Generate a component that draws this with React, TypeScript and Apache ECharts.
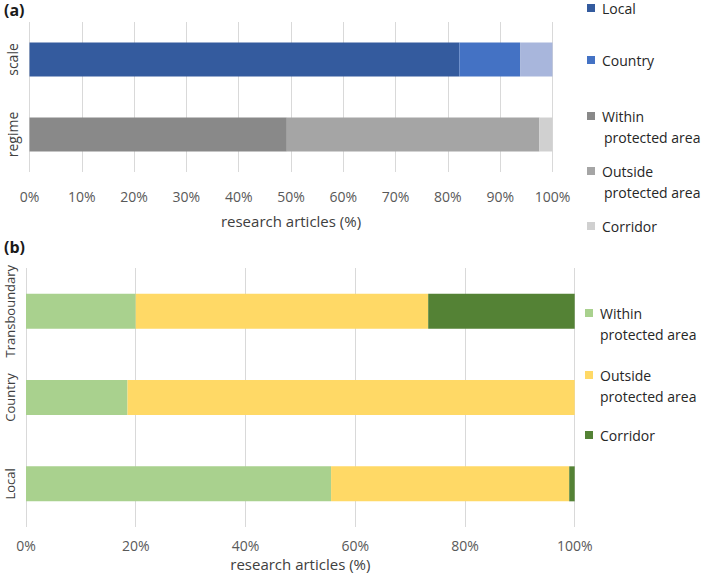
import React, { useEffect, useRef } from "react";
import * as echarts from "echarts";

// Panel (a)
const catsA = ["regime", "scale"];
const scaleLocal = [null, 82.2];
const scaleCountry = [null, 11.6];
const scaleTrans = [null, 6.2];
const regimeWithin = [49.2, null];
const regimeOutside = [48.3, null];
const regimeCorridor = [2.5, null];

// Panel (b)
const catsB = ["Local", "Country", "Transboundary"];
const bWithin = [55.6, 18.5, 20.0];
const bOutside = [43.4, 81.5, 53.3];
const bCorridor = [1.0, 0, 26.7];

const ticksA = 10;
const ticksB = 20;

const FONT = "'Open Sans', 'Noto Sans', sans-serif";
const TICK_COLOR = "#595959";
const TEXT_COLOR = "#404040";

export default function App() {
  const ref = useRef<HTMLDivElement>(null);
  useEffect(() => {
    if (!ref.current) return;
    const chart = echarts.init(ref.current, null, { renderer: "svg" });
    const barA = 34;
    const barB = 35;
    const mkLegend = (name: string, label: string, top: number, left: number) => ({
      data: [name],
      top,
      left,
      padding: 0,
      orient: "vertical",
      icon: "rect",
      itemWidth: 8,
      itemHeight: 8,
      itemGap: 6,
      selectedMode: false,
      formatter: () => label,
      textStyle: { fontFamily: FONT, fontSize: 14, color: "#262626", padding: [0, 0, 0, 2] },
    });
    chart.setOption({
      animation: false,
      textStyle: { fontFamily: FONT },
      grid: [
        { left: 29.5, right: 156.5, top: 22, height: 150 },
        { left: 26, right: 134.3, top: 268, height: 259 },
      ],
      xAxis: [
        {
          gridIndex: 0,
          type: "value",
          min: 0,
          max: 100,
          interval: ticksA,
          axisLine: { show: false },
          axisTick: { show: false },
          splitLine: { lineStyle: { color: "#d9d9d9", width: 1 } },
          axisLabel: { formatter: "{value}%", color: TICK_COLOR, fontSize: 14, margin: 17, fontFamily: FONT },
          name: "research articles (%)",
          nameLocation: "middle",
          nameGap: 41,
          nameTextStyle: { color: TEXT_COLOR, fontSize: 15, fontFamily: FONT },
        },
        {
          gridIndex: 1,
          type: "value",
          min: 0,
          max: 100,
          interval: ticksB,
          axisLine: { show: false },
          axisTick: { show: false },
          splitLine: { lineStyle: { color: "#d9d9d9", width: 1 } },
          axisLabel: { formatter: "{value}%", color: TICK_COLOR, fontSize: 14, margin: 11, fontFamily: FONT },
          name: "research articles (%)",
          nameLocation: "middle",
          nameGap: 29,
          nameTextStyle: { color: TEXT_COLOR, fontSize: 15, fontFamily: FONT },
        },
      ],
      yAxis: [
        {
          gridIndex: 0,
          type: "category",
          data: catsA,
          axisLine: { show: false },
          axisTick: { show: false },
          axisLabel: { rotate: 90, interval: 0, color: TEXT_COLOR, fontSize: 14, margin: 10, fontFamily: FONT },
        },
        {
          gridIndex: 1,
          type: "category",
          data: catsB,
          axisLine: { show: false },
          axisTick: { show: false },
          axisLabel: { rotate: 90, interval: 0, color: TEXT_COLOR, fontSize: 13, margin: 10, fontFamily: FONT },
        },
      ],
      legend: [
        mkLegend("Local", "Local", 1, 587),
        mkLegend("Country", "Country", 53, 587),
        mkLegend("Within (a)", "Within", 109, 587),
        mkLegend("Outside (a)", "Outside", 164, 587),
        mkLegend("Corridor (a)", "Corridor", 219, 587),
        mkLegend("Within protected area", "Within", 306, 585),
        mkLegend("Outside protected area", "Outside", 368, 585),
        mkLegend("Corridor", "Corridor", 428, 585),
      ],
      graphic: [
        { type: "text", left: 4, top: 2, style: { text: "(a)", font: `bold 16px ${FONT}`, fill: "#1a1a1a" } },
        { type: "text", left: 4, top: 239, style: { text: "(b)", font: `bold 16px ${FONT}`, fill: "#1a1a1a" } },
        { type: "text", left: 604, top: 130, style: { text: "protected area", font: `14px ${FONT}`, fill: "#262626" } },
        { type: "text", left: 604, top: 185, style: { text: "protected area", font: `14px ${FONT}`, fill: "#262626" } },
        { type: "text", left: 600, top: 327, style: { text: "protected area", font: `14px ${FONT}`, fill: "#262626" } },
        { type: "text", left: 600, top: 389, style: { text: "protected area", font: `14px ${FONT}`, fill: "#262626" } },
      ],
      series: [
        { name: "Local", type: "bar", stack: "a", xAxisIndex: 0, yAxisIndex: 0, barWidth: barA, data: scaleLocal, itemStyle: { color: "#345B9E" } },
        { name: "Country", type: "bar", stack: "a", xAxisIndex: 0, yAxisIndex: 0, barWidth: barA, data: scaleCountry, itemStyle: { color: "#4472C4" } },
        { name: "Transboundary", type: "bar", stack: "a", xAxisIndex: 0, yAxisIndex: 0, barWidth: barA, data: scaleTrans, itemStyle: { color: "#A8B6DC" } },
        { name: "Within (a)", type: "bar", stack: "a", xAxisIndex: 0, yAxisIndex: 0, barWidth: barA, data: regimeWithin, itemStyle: { color: "#898989" } },
        { name: "Outside (a)", type: "bar", stack: "a", xAxisIndex: 0, yAxisIndex: 0, barWidth: barA, data: regimeOutside, itemStyle: { color: "#A5A5A5" } },
        { name: "Corridor (a)", type: "bar", stack: "a", xAxisIndex: 0, yAxisIndex: 0, barWidth: barA, data: regimeCorridor, itemStyle: { color: "#D0D0D0" } },
        { name: "Within protected area", type: "bar", stack: "b", xAxisIndex: 1, yAxisIndex: 1, barWidth: barB, data: bWithin, itemStyle: { color: "#A9D18E" } },
        { name: "Outside protected area", type: "bar", stack: "b", xAxisIndex: 1, yAxisIndex: 1, barWidth: barB, data: bOutside, itemStyle: { color: "#FFD966" } },
        { name: "Corridor", type: "bar", stack: "b", xAxisIndex: 1, yAxisIndex: 1, barWidth: barB, data: bCorridor, itemStyle: { color: "#548235" } },
      ],
    });
    return () => chart.dispose();
  }, []);
  return <div ref={ref} style={{ width: 709, height: 576, position: "absolute", left: 0, top: 0 }} />;
}
